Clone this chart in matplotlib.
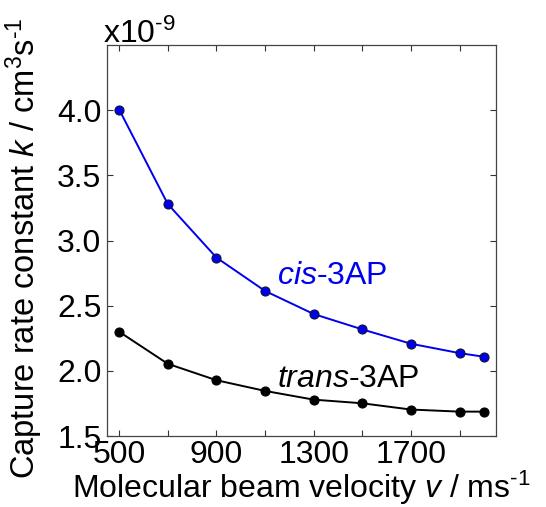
import numpy as np
import matplotlib
matplotlib.use('Agg')
import matplotlib.pyplot as plt
from matplotlib.ticker import FixedLocator

plt.rcParams['font.family'] = ['Liberation Sans', 'DejaVu Sans']
plt.rcParams['mathtext.fontset'] = 'custom'
plt.rcParams['mathtext.rm'] = 'Liberation Sans'
plt.rcParams['mathtext.it'] = 'Liberation Sans:italic'

# data (k in units of 1e-9 cm^3 s^-1)
velocity = [500, 700, 900, 1100, 1300, 1500, 1700, 1900, 2000]
k_cis = [4.005, 3.28, 2.869, 2.613, 2.436, 2.318, 2.208, 2.136, 2.108]
k_trans = [2.300, 2.054, 1.928, 1.846, 1.779, 1.751, 1.703, 1.687, 1.687]
xticks = [500, 900, 1300, 1700]
yticks = [1.5, 2.0, 2.5, 3.0, 3.5, 4.0]

FS = 23
HY = '\u2010'  # short hyphen instead of the long minus

fig = plt.figure(figsize=(5.46, 5.07), dpi=100)
ax = fig.add_axes([107/546, 1-436/507, (496-107)/546, (436-45)/507])

ax.plot(velocity, k_cis, '-o', color='#0000ee', lw=1.4, ms=6.5,
        mfc='#0000ee', mec='#111133', mew=0.8)
ax.plot(velocity, k_trans, '-o', color='black', lw=1.4, ms=6.5,
        mfc='black', mec='black', mew=0.8)

ax.set_xlim(450, 2050)
ax.set_ylim(1.5, 4.5)
ax.xaxis.set_major_locator(FixedLocator(xticks))
ax.xaxis.set_minor_locator(FixedLocator([700, 1100, 1500, 1900]))
ax.yaxis.set_major_locator(FixedLocator(yticks))
ax.set_yticklabels(['%.1f' % v for v in yticks])
ax.tick_params(which='both', direction='in', top=True, right=True,
               labelsize=FS, width=0.8, color='#333333', length=4, pad=4)
ax.tick_params(axis='x', pad=3)
for s in ax.spines.values():
    s.set_linewidth(0.9)
    s.set_color('#444444')

ax.text(1150, 2.73, r'$\it{cis}$-3AP', color='#0000ee', fontsize=FS, va='center')
ax.text(1150, 1.94, r'$\it{trans}$-3AP', color='black', fontsize=FS, va='center')

fig.text(103/546, 1-43/507, 'x10$^{\\mathregular{' + HY + '9}}$', fontsize=FS,
         va='baseline', ha='left')

ax.set_xlabel('Molecular beam velocity $\\it{v}$ / ms$^{\\mathregular{' + HY + '1}}$',
              fontsize=23, labelpad=-1)
ax.set_ylabel('Capture rate constant $\\it{k}$ / cm$^{\\mathregular{3}}$s$^{\\mathregular{' + HY + '1}}$',
              fontsize=23.5)
ax.yaxis.set_label_coords(-0.16, 0.48)

fig.savefig('out.png', dpi=100)
